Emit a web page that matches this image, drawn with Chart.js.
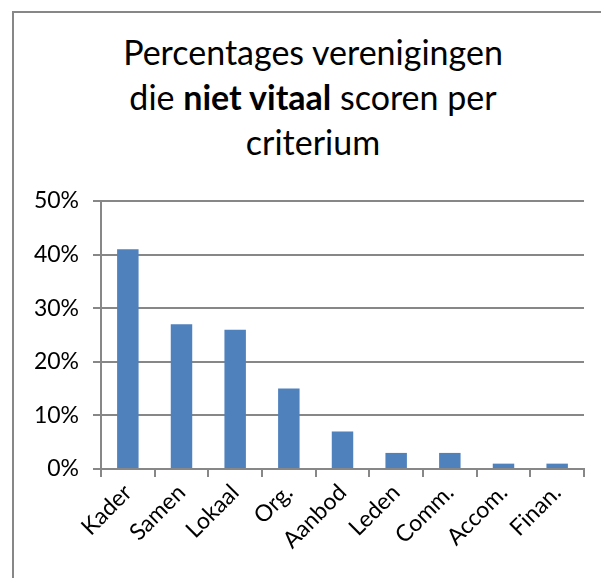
<!DOCTYPE html>
<html lang="nl">
<head>
    <meta charset="UTF-8">
    <title>Percentages verenigingen die niet vitaal scoren per criterium</title>
    <script src="https://cdn.jsdelivr.net/npm/chart.js"></script>
    <style>
        body { margin: 0; background: #fff; }
        #wrap { position: relative; width: 601px; height: 578px; overflow: hidden; }
        #frame { position: absolute; left: 12px; top: 11px; width: 700px; height: 700px;
                 border-left: 2px solid #878787; border-top: 2px solid #878787; }
        #title { position: absolute; left: 13px; top: 29px; width: 600px; text-align: center;
                 font-family: Lato, "Open Sans", sans-serif; font-size: 34px; line-height: 45px; color: #000; }
        #chart { position: absolute; left: 0; top: 0; }
    </style>
</head>
<body>
    <div id="wrap">
        <div id="frame"></div>
        <div id="title">Percentages verenigingen<br>die <b>niet vitaal</b> scoren per<br>criterium</div>
        <canvas id="chart" width="601" height="578"></canvas>
    </div>

    <script>
        // chart data
        const categories = ["Kader", "Samen", "Lokaal", "Org.", "Aanbod", "Leden", "Comm.", "Accom.", "Finan."];
        const percentages = [41, 27, 26, 15, 7, 3, 3, 1, 1];
        const yTicks = [0, 10, 20, 30, 40, 50];

        const axisGrey = "#878787";
        const font = "Lato, 'Open Sans', sans-serif";

        new Chart(document.getElementById("chart"), {
            type: "bar",
            data: {
                labels: categories,
                datasets: [{
                    data: percentages,
                    backgroundColor: "#4f81bd",
                    categoryPercentage: 1,
                    barPercentage: 0.4
                }]
            },
            options: {
                responsive: false,
                animation: false,
                layout: { padding: { top: 201, right: 17, left: 0, bottom: 0 } },
                plugins: { legend: { display: false }, tooltip: { enabled: false } },
                scales: {
                    x: {
                        grid: { offset: true, drawOnChartArea: false, color: axisGrey, lineWidth: 2, tickLength: 8 },
                        border: { color: axisGrey, width: 2 },
                        ticks: { color: "#000", minRotation: 45, maxRotation: 45, padding: 2,
                                 font: { family: font, size: 23 } },
                        afterFit: (s) => { s.height = 109; }
                    },
                    y: {
                        min: 0,
                        max: 50,
                        afterBuildTicks: (s) => { s.ticks = yTicks.map(v => ({ value: v })); },
                        grid: { color: axisGrey, lineWidth: 2, tickLength: 8 },
                        border: { color: axisGrey, width: 2 },
                        ticks: { color: "#000", padding: 14, callback: (v) => v + "%",
                                 font: { family: font, size: 23 } },
                        afterFit: (s) => { s.width = 101; }
                    }
                }
            }
        });
    </script>
</body>
</html>
